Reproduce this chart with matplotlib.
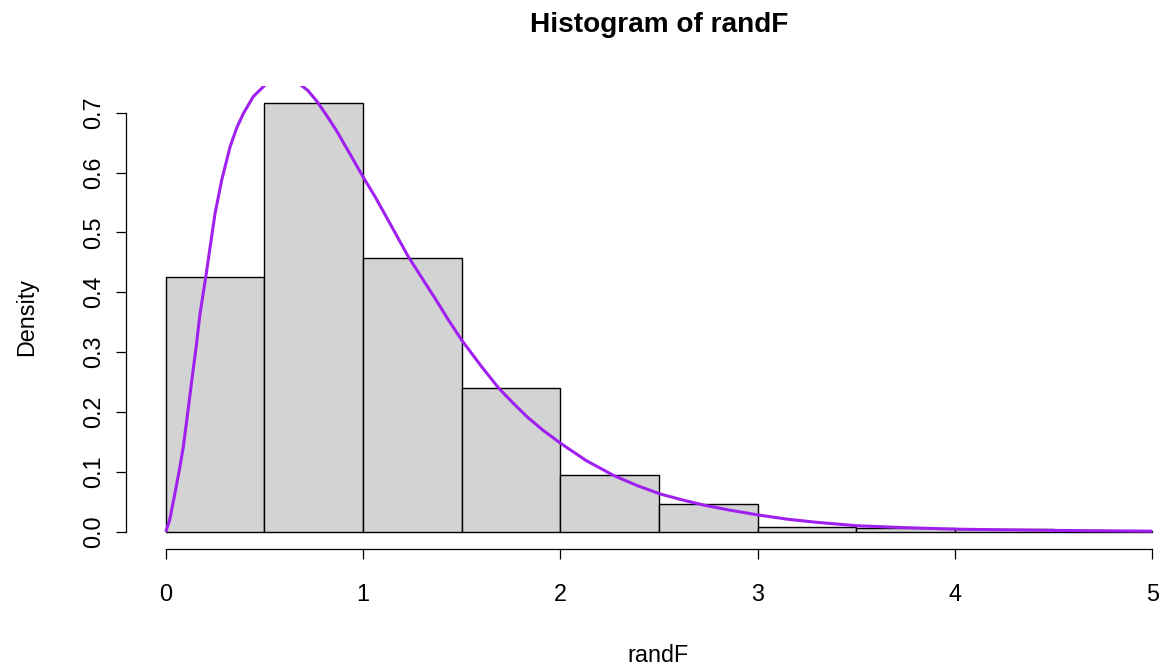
import matplotlib
matplotlib.use("Agg")
import matplotlib.pyplot as plt

# Histogram data (density per bin of width 0.5)
bin_edges = [0.0, 0.5, 1.0, 1.5, 2.0, 2.5, 3.0, 3.5, 4.0, 4.5]
densities = [0.426, 0.716, 0.458, 0.240, 0.094, 0.046, 0.008, 0.006, 0.004, 0.002]

# Density curve values
curve_x = [0.000, 0.020, 0.047, 0.070, 0.089, 0.111, 0.132, 0.154, 0.174, 0.203,
           0.225, 0.250, 0.284, 0.326, 0.360, 0.394, 0.444, 0.503, 0.550, 0.600,
           0.650, 0.681, 0.720, 0.766, 0.820, 0.867, 0.930, 0.994, 1.060, 1.121,
           1.230, 1.300, 1.374, 1.430, 1.500, 1.600, 1.687, 1.760, 1.831, 1.910,
           2.000, 2.130, 2.270, 2.390, 2.507, 2.620, 2.726, 2.860, 3.005, 3.150,
           3.301, 3.504, 3.750, 3.977, 4.200, 4.484, 5.000]
curve_y = [0.000, 0.020, 0.065, 0.105, 0.142, 0.198, 0.253, 0.309, 0.365, 0.426,
           0.476, 0.532, 0.588, 0.643, 0.675, 0.699, 0.727, 0.746, 0.757, 0.762,
           0.757, 0.747, 0.737, 0.719, 0.693, 0.669, 0.633, 0.596, 0.560, 0.524,
           0.459, 0.423, 0.385, 0.355, 0.320, 0.276, 0.240, 0.215, 0.192, 0.170,
           0.148, 0.119, 0.094, 0.077, 0.063, 0.053, 0.0446, 0.036, 0.0279, 0.021,
           0.0157, 0.010, 0.0068, 0.0045, 0.0034, 0.0023, 0.001]

x_ticks = [0, 1, 2, 3, 4, 5]
y_ticks = [0.0, 0.1, 0.2, 0.3, 0.4, 0.5, 0.6, 0.7]
y_tick_labels = ["0.0", "0.1", "0.2", "0.3", "0.4", "0.5", "0.6", "0.7"]

plt.rcParams['font.family'] = ['Liberation Sans', 'DejaVu Sans']

W, H = 1164, 667
fig = plt.figure(figsize=(W / 100, H / 100), dpi=100)
left_px, right_px, top_px, bottom_px = 126.3, 1191.8, 85.9, 548.9
ax = fig.add_axes([left_px / W, 1 - bottom_px / H,
                   (right_px - left_px) / W, (bottom_px - top_px) / H])

ax.bar(bin_edges, densities, width=0.5, align='edge', color='#D3D3D3',
       edgecolor='black', linewidth=1.0)
ax.plot(curve_x, curve_y, color='#A020F0', linewidth=2.2,
        solid_joinstyle='round', solid_capstyle='butt')

ax.set_xlim(-0.2, 5.2)
ax.set_ylim(-0.02864, 0.74464)

for s in ['top', 'right']:
    ax.spines[s].set_visible(False)
ax.spines['left'].set_bounds(0, 0.7)
ax.spines['bottom'].set_bounds(0, 5)
for s in ['left', 'bottom']:
    ax.spines[s].set_linewidth(0.9)

ax.set_xticks(x_ticks)
ax.set_xticklabels([str(t) for t in x_ticks])
ax.set_yticks(y_ticks)
ax.set_yticklabels(y_tick_labels, rotation=90, va='center')
ax.tick_params(axis='x', length=7.5, width=0.9, pad=17, labelsize=16.8)
ax.tick_params(axis='y', length=7.5, width=0.9, pad=8, labelsize=16.8)

fig.text(659 / W, 1 - 25 / H, "Histogram of randF", ha='center', va='center',
         fontsize=20.2, fontweight='bold')
fig.text(658 / W, 1 - 655 / H, "randF", ha='center', va='center', fontsize=16.8)
fig.text(27 / W, 1 - 317 / H, "Density", ha='center', va='center',
         rotation=90, fontsize=16.8)

fig.savefig("out.png", dpi=100)
